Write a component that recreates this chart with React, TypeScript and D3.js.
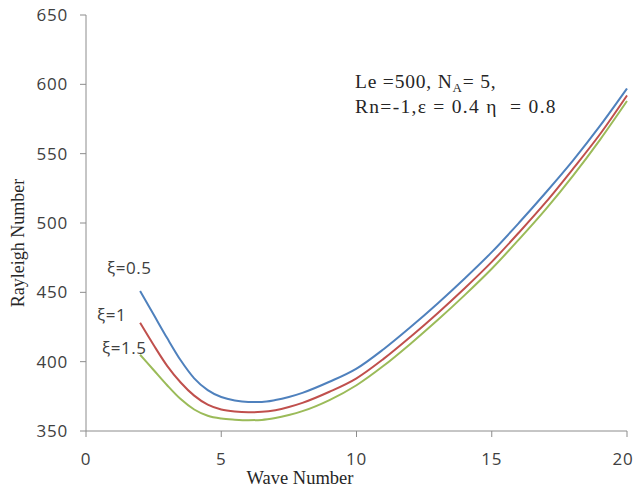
import React from "react";
import * as d3 from "d3";

const waveNumbers = [2, 2.5, 3, 3.5, 4, 4.5, 5, 5.5, 6, 6.5, 7, 7.5, 8, 9, 10, 11, 12, 13, 14, 15, 16, 17, 18, 19, 20];
const xi05 = [451, 434, 417, 401, 388, 379.5, 374.5, 372, 371, 371, 372.3, 374.5, 377.5, 385.5, 395, 409, 425, 442, 460, 479, 500, 522, 545, 570, 597];
const xi1 = [428, 412, 397, 385, 375.5, 369, 365.5, 364, 363.5, 363.8, 365, 367.3, 370.3, 378.3, 388, 402, 418, 435, 453, 472, 493, 515, 539, 564, 592];
const xi15 = [405, 394, 383, 373, 365.5, 361, 359, 358.2, 357.8, 358, 359.3, 361.5, 364.3, 372.3, 383, 397, 413, 430, 448, 467, 488, 510, 534, 560, 588];
const seriesLabels = ["ξ=0.5", "ξ=1", "ξ=1.5"];
const xTicks = [0, 5, 10, 15, 20];
const yTicks = [350, 400, 450, 500, 550, 600, 650];

const W = 636, H = 487;
const x = d3.scaleLinear().domain([0, 20]).range([86, 627]);
const y = d3.scaleLinear().domain([350, 650]).range([431, 15]);

const colors = ["#4F81BD", "#C0504D", "#9BBB59"];
const series = [xi05, xi1, xi15];
const labelPos = [
  { x: 107, y: 274 },
  { x: 97, y: 321 },
  { x: 102, y: 354 },
];

export default function App() {
  const line = d3
    .line<number>()
    .x((_, i) => x(waveNumbers[i]))
    .y((d) => y(d))
    .curve(d3.curveMonotoneX);
  const sans = "'Open Sans', 'Noto Sans', sans-serif";
  const serif = "'Liberation Serif', 'DejaVu Serif', serif";
  return (
    <svg width={W} height={H} style={{ position: "absolute", left: 0, top: 0, background: "#fff" }}>
      <rect width={W} height={H} fill="#fff" />
      <line x1={x(0)} x2={x(0)} y1={y(650)} y2={y(350)} stroke="#8c8c8c" strokeWidth={1} />
      <line x1={x(0)} x2={x(20)} y1={y(350)} y2={y(350)} stroke="#8c8c8c" strokeWidth={1} />
      {yTicks.map((t) => (
        <g key={"y" + t}>
          <line x1={x(0) - 6} x2={x(0)} y1={y(t)} y2={y(t)} stroke="#8c8c8c" />
          <text x={68} y={y(t)} dy="0.35em" textAnchor="end" fontFamily={sans} fontSize={17} letterSpacing={0.8} fill="#404040">
            {t}
          </text>
        </g>
      ))}
      {xTicks.map((t) => (
        <g key={"x" + t}>
          <line x1={x(t)} x2={x(t)} y1={y(350)} y2={y(350) + 6} stroke="#8c8c8c" />
          <text x={Math.min(x(t), 623)} y={459} dy="0.35em" textAnchor="middle" fontFamily={sans} fontSize={17} letterSpacing={0.8} fill="#404040">
            {t}
          </text>
        </g>
      ))}
      {series.map((s, i) => (
        <path key={i} d={line(s) || ""} fill="none" stroke={colors[i]} strokeWidth={2} />
      ))}
      {seriesLabels.map((l, i) => (
        <text key={l} x={labelPos[i].x} y={labelPos[i].y} fontFamily={sans} fontSize={17} letterSpacing={0.6} fill="#404040">
          {l}
        </text>
      ))}
      <text x={300} y={484} textAnchor="middle" fontFamily={serif} fontSize={18.5} fill="#262626">
        Wave Number
      </text>
      <text transform={`translate(24,243) rotate(-90)`} textAnchor="middle" fontFamily={serif} fontSize={18} fill="#262626">
        Rayleigh Number
      </text>
      <text x={355} y={88} fontFamily={serif} fontSize={19.5} letterSpacing={0.8} fill="#262626" style={{ whiteSpace: "pre" }}>
        Le =500, N<tspan dy={4} fontSize={13}>A</tspan><tspan dy={-4}>= 5,</tspan>
      </text>
      <text x={355} y={113} fontFamily={serif} fontSize={19.5} letterSpacing={1.3} fill="#262626" style={{ whiteSpace: "pre" }}>
        {"Rn=-1,ε = 0.4 η  = 0.8"}
      </text>
    </svg>
  );
}
